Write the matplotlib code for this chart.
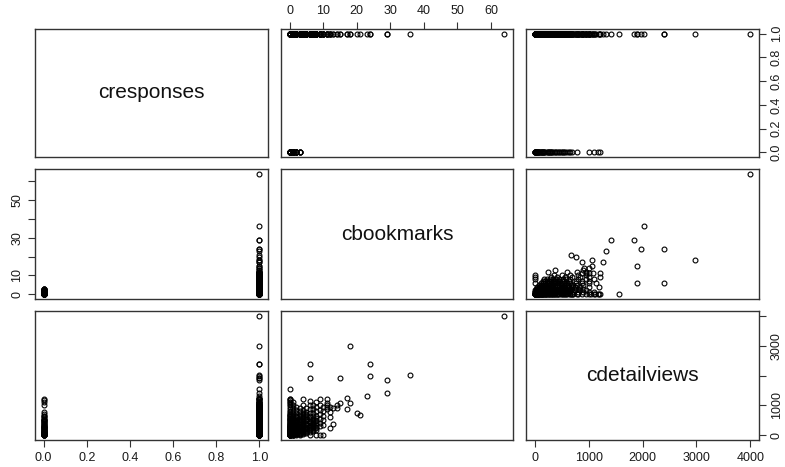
"""
Scatterplot matrix of responses, bookmarks and detail views (R pairs() look).
"""

import matplotlib.pyplot as plt

# response = 0 group
r0_bookmarks = [0] * 35 + [1] * 9 + [2] * 7 + [3] * 4
r0_views = [0, 5, 10, 20, 30, 40, 55, 70, 85, 100, 120, 140, 160, 180, 200,
            230, 260, 290, 320, 350, 380, 420, 460, 500, 550, 600, 650, 700,
            790, 1000, 1100, 1180, 1220, 15, 25,
            15, 60, 110, 170, 240, 310, 400, 480, 560,
            30, 90, 150, 250, 330, 450, 640,
            50, 130, 280, 520]

# response = 1 group
r1_bookmarks = ([0] * 28 + [1] * 18 + [2] * 15 + [3] * 13 + [4] * 13 + [5] * 10
                + [6] * 14 + [7] * 10 + [8] * 9 + [9] * 8 + [10] * 6 + [11] * 5
                + [12] * 4 + [13] * 2 + [14] * 2 + [15] * 2 + [17] * 2 + [18] * 2
                + [20, 21, 23, 24, 24, 29, 29, 36, 64])
r1_views = [0, 10, 25, 40, 60, 80, 100, 130, 160, 190, 220, 260, 300, 340,
            380, 430, 480, 530, 590, 650, 720, 800, 880, 960, 1040, 1120, 1200, 1560,
            0, 20, 50, 90, 130, 180, 230, 290, 350, 420, 490, 560, 640, 720, 810,
            900, 1000, 1100,
            10, 40, 80, 120, 170, 220, 280, 340, 410, 480, 560, 650, 740, 850, 960,
            20, 60, 110, 160, 220, 290, 360, 440, 520, 610, 700, 800, 900,
            50, 100, 160, 230, 300, 380, 460, 550, 640, 740, 850, 1000, 1200,
            80, 140, 210, 290, 370, 460, 560, 670, 780, 900,
            0, 120, 200, 270, 350, 440, 540, 650, 760, 880, 1000, 1130, 1900, 2400,
            150, 230, 310, 370, 450, 540, 640, 760, 880, 1000,
            0, 180, 280, 400, 520, 650, 800, 950, 1100,
            0, 300, 420, 560, 700, 850, 1000, 1220,
            0, 350, 500, 650, 800, 950,
            880, 950, 1000, 1080, 1220,
            250, 600, 780, 950,
            370, 900,
            920, 1000,
            1070, 1900,
            870, 1260,
            1070, 2980,
            760, 670, 1320, 1970, 2400, 1420, 1850, 2030, 4000]

# extra low-count response = 1 records filling the dense corner
r1_dense_bookmarks = ([0] * 12 + [1] * 12 + [2] * 11 + [3] * 10 + [4] * 9 + [5] * 8
                      + [6] * 6 + [7] * 5 + [8] * 4)
r1_dense_views = [5, 30, 50, 70, 115, 145, 205, 240, 320, 410, 560, 690,
                  10, 35, 70, 110, 155, 205, 260, 320, 390, 460, 530, 600,
                  25, 60, 100, 145, 195, 250, 310, 380, 450, 520, 600,
                  40, 85, 135, 190, 255, 325, 400, 480, 560, 660,
                  75, 130, 195, 265, 340, 420, 500, 600, 700,
                  110, 175, 250, 330, 410, 510, 620, 720,
                  160, 240, 310, 400, 490, 600,
                  190, 270, 350, 420, 500,
                  230, 340, 460, 580]

names = ['cresponses', 'cbookmarks', 'cdetailviews']

cresponses = [0] * len(r0_views) + [1] * (len(r1_views) + len(r1_dense_views))
cbookmarks = r0_bookmarks + r1_bookmarks + r1_dense_bookmarks
cdetailviews = r0_views + r1_views + r1_dense_views
data = [cresponses, cbookmarks, cdetailviews]

# ticks per variable, labels R dropped for overlap are blank
ticks = [[0.0, 0.2, 0.4, 0.6, 0.8, 1.0],
         [0, 10, 20, 30, 40, 50, 60],
         [0, 1000, 2000, 3000, 4000]]
all_labels = [['0.0', '0.2', '0.4', '0.6', '0.8', '1.0'],
              ['0', '10', '20', '30', '40', '50', '60'],
              ['0', '1000', '2000', '3000', '4000']]
side_labels = [['0.0', '0.2', '0.4', '0.6', '0.8', '1.0'],
               ['0', '10', '', '30', '', '50', ''],
               ['0', '1000', '', '3000', '']]

W, H = 785, 467
cols = [(35, 268), (281, 513), (526, 759)]
rows = [(29, 157), (169, 299), (311, 440)]


def pad_range(v):
    lo, hi = min(v), max(v)
    d = (hi - lo) * 0.04
    return lo - d, hi + d


def make_pairs():
    plt.rcParams['font.family'] = ['Liberation Sans', 'DejaVu Sans']
    fig = plt.figure(figsize=(W / 100, H / 100), dpi=100)
    edge = '#333333'

    for i in range(3):
        for j in range(3):
            x0, x1 = cols[j]
            y0, y1 = rows[i]
            ax = fig.add_axes([x0 / W, 1 - y1 / H, (x1 - x0) / W, (y1 - y0) / H])
            for s in ax.spines.values():
                s.set_color(edge)
                s.set_linewidth(1.0)
            ax.set_xlim(*pad_range(data[j]))
            ax.set_ylim(*pad_range(data[i]))
            ax.tick_params(length=5, width=0.8, color=edge, labelsize=9,
                           labelcolor='#1a1a1a', pad=3.5)
            ax.set_xticks([])
            ax.set_yticks([])

            if i == j:
                ax.text(0.5, 0.5, names[i], transform=ax.transAxes,
                        ha='center', va='center', fontsize=15, color='#111111')
            else:
                ax.plot(data[j], data[i], linestyle='none', marker='o',
                        markersize=3.5, markerfacecolor='none',
                        markeredgecolor='black', markeredgewidth=0.8)

            # R pairs puts axes on alternating outer sides
            if i == 0 and j == 1:
                ax.set_xticks(ticks[j])
                ax.set_xticklabels(all_labels[j])
                ax.xaxis.tick_top()
            if i == 2 and j in (0, 2):
                ax.set_xticks(ticks[j])
                ax.set_xticklabels(all_labels[j])
            if j == 0 and i == 1:
                ax.set_yticks(ticks[i])
                ax.set_yticklabels(side_labels[i], rotation=90, va='center')
            if j == 2 and i in (0, 2):
                ax.set_yticks(ticks[i])
                ax.set_yticklabels(side_labels[i], rotation=90, va='center')
                ax.yaxis.tick_right()

    return fig


if __name__ == "__main__":
    fig = make_pairs()
    fig.savefig('out.png', dpi=100)
